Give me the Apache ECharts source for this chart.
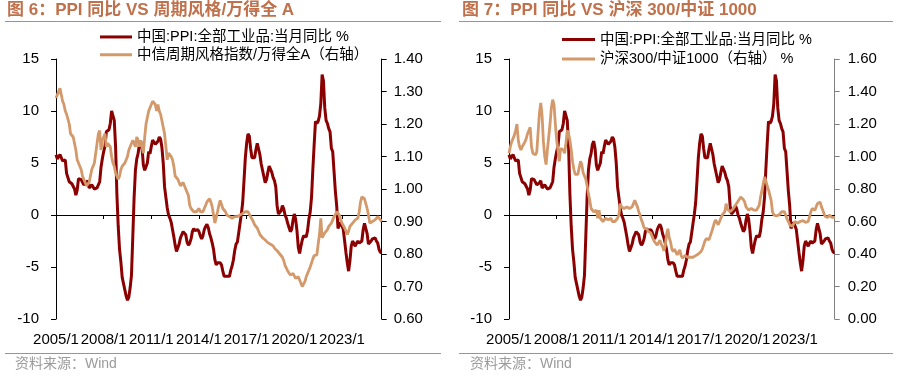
<!DOCTYPE html>
<html>
<head>
<meta charset="utf-8">
<script src="https://cdn.jsdelivr.net/npm/echarts@6/dist/echarts.min.js"></script>
<style>
html,body{margin:0;padding:0;background:#fff;}
#c{width:905px;height:380px;}
</style>
</head>
<body>
<div id="c"></div>
<script>
// ---- categories (monthly 2005/1 - 2025/7) ----
const months = [];
for (let y = 2005; y <= 2025; y++) {
  for (let m = 1; m <= 12; m++) {
    if (y === 2025 && m > 7) break;
    months.push(y + '/' + m);
  }
}

// ---- 中国:PPI:全部工业品:当月同比 % ----
const ppi = [
  5.8, 5.4, 5.6, 5.8, 5.9, 5.2, 5.2, 5.3, 4.0, 4.0, 3.2, 3.2,
  3.0, 3.0, 2.5, 1.9, 2.4, 3.5, 3.6, 3.4, 3.5, 2.9, 2.8, 3.1,
  3.3, 2.6, 2.7, 2.9, 2.8, 2.5, 2.4, 2.6, 2.7, 3.2, 4.6, 5.4,
  6.1, 6.6, 8.0, 8.1, 8.2, 8.8, 10.0, 10.1, 9.1, 6.6, 2.0, -1.1,
  -3.3, -4.5, -6.0, -6.6, -7.2, -7.8, -8.2, -7.9, -7.0, -5.8, -2.1, 1.7,
  4.3, 5.4, 5.9, 6.8, 7.1, 6.4, 4.8, 4.3, 4.3, 5.0, 6.1, 5.9,
  6.6, 7.2, 7.3, 6.8, 6.8, 7.1, 7.5, 7.3, 6.5, 5.0, 2.7, 1.7,
  0.7, 0.0, -0.3, -0.7, -1.4, -2.1, -2.9, -3.5, -3.6, -2.8, -2.2, -1.9,
  -1.6, -1.6, -1.9, -2.6, -2.9, -2.7, -2.3, -1.6, -1.3, -1.5, -1.4, -1.4,
  -1.6, -2.0, -2.3, -2.0, -1.4, -1.1, -0.9, -1.2, -1.8, -2.2, -2.7, -3.3,
  -4.3, -4.8, -4.6, -4.6, -4.6, -4.8, -5.4, -5.9, -5.9, -5.9, -5.9, -5.9,
  -5.3, -4.9, -4.3, -3.4, -2.8, -2.6, -1.7, -0.8, 0.1, 1.2, 3.3, 5.5,
  6.9, 7.8, 7.6, 6.4, 5.5, 5.5, 5.5, 6.3, 6.9, 6.9, 5.8, 4.9,
  4.3, 3.7, 3.1, 3.4, 4.1, 4.7, 4.6, 4.1, 3.6, 3.3, 2.7, 0.9,
  0.1, 0.1, 0.4, 0.9, 0.6, 0.0, -0.3, -0.8, -1.2, -1.6, -1.4, -0.5,
  0.1, -0.4, -1.5, -3.1, -3.7, -3.0, -2.4, -2.0, -2.1, -2.1, -1.5, -0.4,
  0.3, 1.7, 4.4, 6.8, 9.0, 8.8, 9.0, 9.5, 10.7, 13.5, 12.9, 10.3,
  9.1, 8.8, 8.3, 8.0, 6.4, 6.1, 4.2, 2.3, 0.9, -1.3, -1.3, -0.7,
  -0.8, -1.4, -2.5, -3.6, -4.6, -5.4, -4.4, -3.0, -2.5, -2.6, -3.0, -2.7,
  -2.5, -2.7, -2.8, -2.5, -1.4, -0.8, -0.8, -1.8, -2.8, -2.9, -2.5, -2.3,
  -2.3, -2.2, -2.5, -2.7, -3.3, -3.6, -3.6
];

// ---- 中信周期风格指数/万得全A（右轴） ----
const cycleRatio = [
  1.28, 1.29, 1.30, 1.31, 1.29, 1.27, 1.26, 1.24, 1.23, 1.23, 1.20, 1.17,
  1.17, 1.16, 1.16, 1.12, 1.09, 1.08, 1.07, 1.06, 1.04, 1.03, 1.02, 1.01,
  1.01, 1.02, 1.04, 1.06, 1.07, 1.08, 1.08, 1.14, 1.17, 1.18, 1.12, 1.15,
  1.16, 1.17, 1.13, 1.14, 1.14, 1.13, 1.10, 1.08, 1.07, 1.05, 1.04, 1.03,
  1.04, 1.06, 1.07, 1.07, 1.08, 1.09, 1.10, 1.12, 1.13, 1.14, 1.15, 1.14,
  1.13, 1.16, 1.15, 1.13, 1.15, 1.15, 1.11, 1.16, 1.20, 1.22, 1.24, 1.25,
  1.26, 1.27, 1.27, 1.26, 1.24, 1.26, 1.24, 1.23, 1.21, 1.19, 1.17, 1.13,
  1.09, 1.11, 1.11, 1.10, 1.09, 1.07, 1.04, 1.04, 1.03, 1.02, 1.01, 1.01,
  1.02, 1.01, 1.00, 0.99, 0.98, 0.95, 0.94, 0.935, 0.93, 0.93, 0.93, 0.935,
  0.94, 0.93, 0.925, 0.93, 0.94, 0.95, 0.96, 0.965, 0.97, 0.96, 0.945, 0.92,
  0.895, 0.90, 0.93, 0.95, 0.965, 0.97, 0.94, 0.945, 0.93, 0.92, 0.915, 0.915,
  0.91, 0.91, 0.91, 0.915, 0.92, 0.915, 0.915, 0.92, 0.925, 0.925, 0.93, 0.93,
  0.935, 0.93, 0.925, 0.915, 0.91, 0.90, 0.89, 0.895, 0.88, 0.87, 0.86, 0.855,
  0.85, 0.845, 0.843, 0.84, 0.835, 0.833, 0.83, 0.828, 0.825, 0.818, 0.815, 0.81,
  0.805, 0.80, 0.797, 0.79, 0.78, 0.765, 0.76, 0.748, 0.745, 0.735, 0.73, 0.74,
  0.735, 0.725, 0.728, 0.73, 0.72, 0.715, 0.70, 0.705, 0.715, 0.73, 0.74, 0.75,
  0.76, 0.766, 0.785, 0.795, 0.795, 0.797, 0.83, 0.86, 0.91, 0.85, 0.855, 0.865,
  0.87, 0.875, 0.885, 0.89, 0.895, 0.905, 0.915, 0.922, 0.93, 0.925, 0.92, 0.905,
  0.895, 0.89, 0.88, 0.87, 0.86, 0.87, 0.885, 0.89, 0.895, 0.90, 0.905, 0.91,
  0.91, 0.93, 0.96, 0.976, 0.975, 0.97, 0.965, 0.94, 0.92, 0.895, 0.895, 0.90,
  0.90, 0.905, 0.91, 0.915, 0.91, 0.905, 0.90
];

// ---- 沪深300/中证1000（右轴） ----
const hs300zz1000 = [
  1.02, 1.06, 1.09, 1.11, 1.13, 1.16, 1.20, 1.10, 1.06, 1.04, 1.06, 1.07,
  1.09, 1.11, 1.14, 1.16, 1.18, 1.06, 1.02, 1.01, 1.01, 1.03, 1.15, 1.27,
  1.33, 1.25, 1.09, 1.00, 0.95, 1.04, 1.12, 1.20, 1.30, 1.35, 1.32, 1.20,
  1.10, 1.04, 0.97, 1.05, 1.06, 1.04, 1.02, 1.08, 1.16, 1.14, 1.10, 1.04,
  0.97, 0.92, 0.89, 0.88, 0.89, 0.93, 0.97, 0.95, 0.90, 0.88, 0.86, 0.82,
  0.77, 0.73, 0.68, 0.67, 0.66, 0.665, 0.67, 0.62, 0.67, 0.62, 0.61, 0.60,
  0.605, 0.62, 0.615, 0.61, 0.615, 0.62, 0.60, 0.59, 0.60, 0.61, 0.62, 0.64,
  0.71, 0.69, 0.68, 0.68, 0.685, 0.69, 0.685, 0.68, 0.685, 0.69, 0.71, 0.73,
  0.72, 0.69, 0.66, 0.64, 0.61, 0.59, 0.56, 0.56, 0.555, 0.54, 0.535, 0.53,
  0.51, 0.49, 0.475, 0.465, 0.455, 0.47, 0.485, 0.46, 0.445, 0.42, 0.45, 0.52,
  0.555, 0.50, 0.475, 0.43, 0.415, 0.43, 0.435, 0.395, 0.41, 0.425, 0.39, 0.375,
  0.385, 0.39, 0.395, 0.38, 0.375, 0.38, 0.385, 0.38, 0.375, 0.39, 0.395, 0.40,
  0.41, 0.415, 0.43, 0.455, 0.48, 0.495, 0.49, 0.487, 0.51, 0.535, 0.56, 0.59,
  0.61, 0.615, 0.58, 0.60, 0.62, 0.64, 0.65, 0.66, 0.71, 0.675, 0.665, 0.66,
  0.67, 0.675, 0.68, 0.70, 0.71, 0.725, 0.735, 0.75, 0.75, 0.735, 0.72, 0.69,
  0.68, 0.67, 0.675, 0.68, 0.675, 0.67, 0.67, 0.67, 0.68, 0.70, 0.75, 0.79,
  0.83, 0.875, 0.85, 0.82, 0.795, 0.80, 0.73, 0.66, 0.64, 0.64, 0.635, 0.63,
  0.64, 0.65, 0.66, 0.67, 0.66, 0.64, 0.615, 0.60, 0.58, 0.575, 0.57, 0.585,
  0.60, 0.595, 0.59, 0.595, 0.60, 0.61, 0.605, 0.60, 0.595, 0.59, 0.60, 0.63,
  0.66, 0.68, 0.675, 0.67, 0.69, 0.71, 0.72, 0.72, 0.69, 0.67, 0.645, 0.63,
  0.62, 0.625, 0.64, 0.63, 0.625, 0.62, 0.625
];

// ---- texts ----
const title6 = '图 6：PPI 同比 VS 周期风格/万得全 A';
const title7 = '图 7：PPI 同比 VS 沪深 300/中证 1000';
const namePPI = '中国:PPI:全部工业品:当月同比 %';
const nameCycle = '中信周期风格指数/万得全A（右轴）';
const nameHS = '沪深300/中证1000（右轴） %';
const sourceText = '资料来源：Wind';

const DARK = '#8B0000';
const ORANGE = '#D4996A';
const BROWN = '#C0714B';
const LINE_BROWN = '#C8865F';
const FONT = '"Liberation Sans", Arial, "Noto Sans CJK SC", sans-serif';

const chart = echarts.init(document.getElementById('c'), null, {renderer: 'canvas'});

function xZero(grid, onZeroIdx) {
  return {
    type: 'category', gridIndex: grid, data: months, boundaryGap: false,
    position: 'top',
    axisLine: {show: true, onZero: true, onZeroAxisIndex: onZeroIdx, lineStyle: {color: '#000', width: 1}},
    axisTick: {show: true, interval: 35, inside: true, length: 4, lineStyle: {color: '#000'}},
    axisLabel: {show: false},
    splitLine: {show: false}
  };
}
function xLabels(grid) {
  return {
    type: 'category', gridIndex: grid, data: months, boundaryGap: false,
    position: 'bottom',
    axisLine: {show: false}, axisTick: {show: false},
    axisLabel: {interval: 35, margin: 13, fontSize: 15, color: '#000', fontFamily: FONT},
    splitLine: {show: false}
  };
}
function yAxis(grid, pos, min, max, interval, color, margin, dec) {
  return {
    type: 'value', gridIndex: grid, position: pos, min: min, max: max, interval: interval,
    axisLine: {show: true, lineStyle: {color: color, width: 1}},
    axisTick: {show: true, length: 5, lineStyle: {color: color}},
    axisLabel: {fontSize: 15, color: '#000', margin: margin, fontFamily: FONT,
      formatter: v => dec ? v.toFixed(2) : String(v)},
    splitLine: {show: false}
  };
}

const option = {
  animation: false,
  backgroundColor: '#fff',
  grid: [
    {left: 56, top: 59, width: 325.7, height: 260, containLabel: false},
    {left: 509, top: 59, width: 325.7, height: 260, containLabel: false}
  ],
  xAxis: [xZero(0, 0), xLabels(0), xZero(1, 2), xLabels(1)],
  yAxis: [
    yAxis(0, 'left', -10, 15, 5, '#000', 17, false),
    yAxis(0, 'right', 0.6, 1.4, 0.1, '#000', 12, true),
    yAxis(1, 'left', -10, 15, 5, '#000', 17, false),
    yAxis(1, 'right', 0, 1.6, 0.2, '#808080', 13, true)
  ],
  legend: [
    {left: 100, top: 29.7, orient: 'vertical', padding: 0, itemGap: 3.3,
     itemWidth: 32, itemHeight: 3, icon: 'rect',
     textStyle: {fontSize: 14.5, lineHeight: 14, color: '#000', fontFamily: FONT},
     data: [namePPI, nameCycle]},
    {left: 562, top: 32.3, orient: 'vertical', padding: 0, itemGap: 5,
     itemWidth: 33, itemHeight: 3, icon: 'rect',
     textStyle: {fontSize: 14.5, lineHeight: 14, color: '#000', fontFamily: FONT},
     data: [namePPI, nameHS]}
  ],
  series: [
    {name: namePPI, type: 'line', xAxisIndex: 0, yAxisIndex: 0, data: ppi,
     showSymbol: false, symbol: 'none', lineStyle: {color: DARK, width: 3}, itemStyle: {color: DARK}},
    {name: nameCycle, type: 'line', xAxisIndex: 0, yAxisIndex: 1, data: cycleRatio,
     showSymbol: false, symbol: 'none', lineStyle: {color: ORANGE, width: 2.8}, itemStyle: {color: ORANGE}},
    {name: namePPI, type: 'line', xAxisIndex: 2, yAxisIndex: 2, data: ppi,
     showSymbol: false, symbol: 'none', lineStyle: {color: DARK, width: 3}, itemStyle: {color: DARK}},
    {name: nameHS, type: 'line', xAxisIndex: 2, yAxisIndex: 3, data: hs300zz1000,
     showSymbol: false, symbol: 'none', lineStyle: {color: ORANGE, width: 2.8}, itemStyle: {color: ORANGE}}
  ],
  graphic: [
    {type: 'text', left: 7, top: 2, style: {text: title6, fill: BROWN,
      font: 'bold 17px "Liberation Sans", Arial, "Noto Sans CJK SC", sans-serif'}},
    {type: 'text', left: 462, top: 2, style: {text: title7, fill: BROWN,
      font: 'bold 17px "Liberation Sans", Arial, "Noto Sans CJK SC", sans-serif'}},
    {type: 'line', shape: {x1: 5, y1: 21.5, x2: 441, y2: 21.5}, style: {stroke: LINE_BROWN, lineWidth: 1}},
    {type: 'line', shape: {x1: 459, y1: 21.5, x2: 893, y2: 21.5}, style: {stroke: LINE_BROWN, lineWidth: 1}},
    {type: 'line', shape: {x1: 5, y1: 353.5, x2: 441, y2: 353.5}, style: {stroke: LINE_BROWN, lineWidth: 1}},
    {type: 'line', shape: {x1: 459, y1: 353.5, x2: 893, y2: 353.5}, style: {stroke: LINE_BROWN, lineWidth: 1}},
    {type: 'text', left: 15, top: 357, style: {text: sourceText, fill: '#9B9B9B',
      font: '14px "Liberation Sans", Arial, "Noto Sans CJK SC", sans-serif'}},
    {type: 'text', left: 470, top: 357, style: {text: sourceText, fill: '#9B9B9B',
      font: '14px "Liberation Sans", Arial, "Noto Sans CJK SC", sans-serif'}}
  ]
};
chart.setOption(option);
</script>
</body>
</html>
